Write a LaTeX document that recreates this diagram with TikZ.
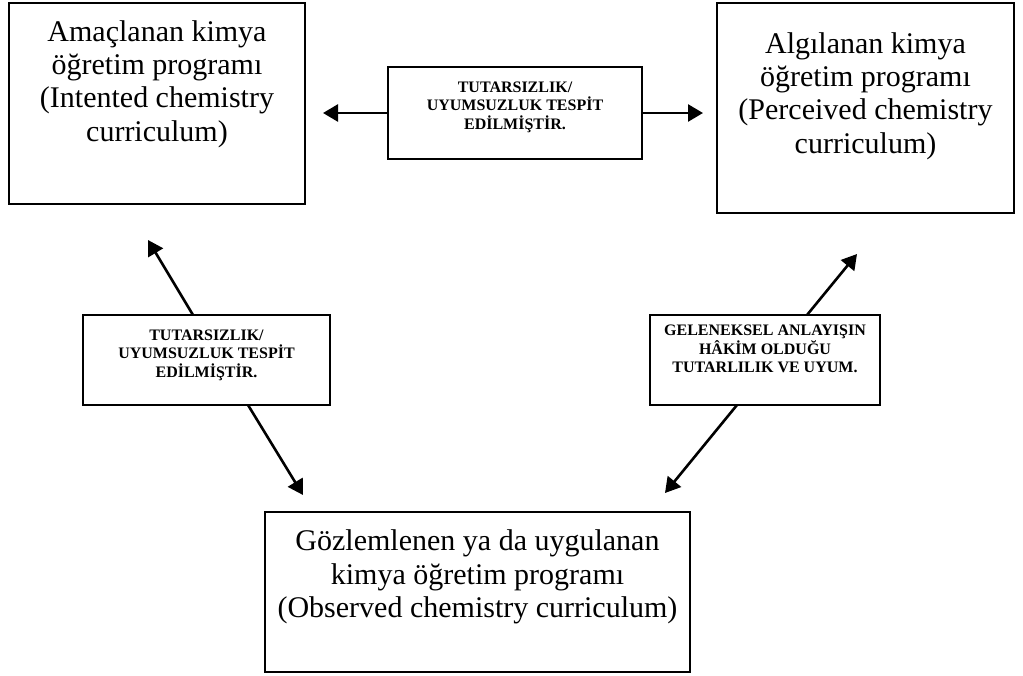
\documentclass[tikz,border=0pt]{standalone}
\usepackage{fontspec}
\setmainfont{Liberation Serif}[BoldFont={Liberation Serif Bold},ItalicFont={Liberation Serif Italic}]
\usetikzlibrary{arrows.meta}
\begin{document}
\begin{tikzpicture}[x=1pt,y=-1pt,
 box/.style={draw,line width=1.6pt,inner sep=0pt},
 big/.style={font=\fontsize{30}{33.4}\selectfont,align=center,inner sep=0pt},
 small/.style={font=\fontsize{16}{18.5}\selectfont\bfseries,align=center,inner sep=0pt},
 arr/.style={line width=2.6pt,-{Triangle[length=15pt,width=17pt]}}]
\useasboundingbox (0,0) rectangle (1023,675);
% main boxes
\node[box,minimum width=296pt,minimum height=201pt] (A) at (157,103.5) {};
\node[big] (At) at (157,84) {Amaçlanan kimya\\öğretim programı\\(Intented chemistry\\curriculum)};
\node[box,minimum width=297pt,minimum height=210pt] (P) at (865.5,108) {};
\node[big] (Pt) at (865.5,96) {Algılanan kimya\\öğretim programı\\(Perceived chemistry\\curriculum)};
\node[box,minimum width=425pt,minimum height=160pt] (O) at (477.5,592) {};
\node[big] (Ot) at (477.5,577) {Gözlemlenen ya da uygulanan\\kimya öğretim programı\\(Observed chemistry curriculum)};
% label boxes
\node[box,minimum width=254pt,minimum height=92pt] (M) at (515,113) {};
\node[small] (Mt) at (515,107) {TUTARSIZLIK/\\UYUMSUZLUK TESPİT\\EDİLMİŞTİR.};
\node[box,minimum width=247pt,minimum height=90pt] (L) at (206.5,360) {};
\node[small] (Lt) at (206.5,355) {TUTARSIZLIK/\\UYUMSUZLUK TESPİT\\EDİLMİŞTİR.};
\node[box,minimum width=230pt,minimum height=90pt] (R) at (765,360) {};
\node[small] (Rt) at (765,349) {GELENEKSEL ANLAYIŞIN\\HÂKİM OLDUĞU\\TUTARLILIK VE UYUM.};
% arrow ends
\coordinate (mA) at (323,113);
\coordinate (mP) at (703,113);
\coordinate (L1) at (193,315);
\coordinate (LA) at (148,240);
\coordinate (L2) at (248,405);
\coordinate (LO) at (303,495);
\coordinate (R1) at (807,315);
\coordinate (RP) at (857,254);
\coordinate (R2) at (737,405);
\coordinate (RO) at (665,493);
\draw[arr] (M.west) -- (mA);
\draw[arr] (M.east) -- (mP);
\draw[arr] (L1) -- (LA);
\draw[arr] (L2) -- (LO);
\draw[arr] (R1) -- (RP);
\draw[arr] (R2) -- (RO);
\end{tikzpicture}
\end{document}
